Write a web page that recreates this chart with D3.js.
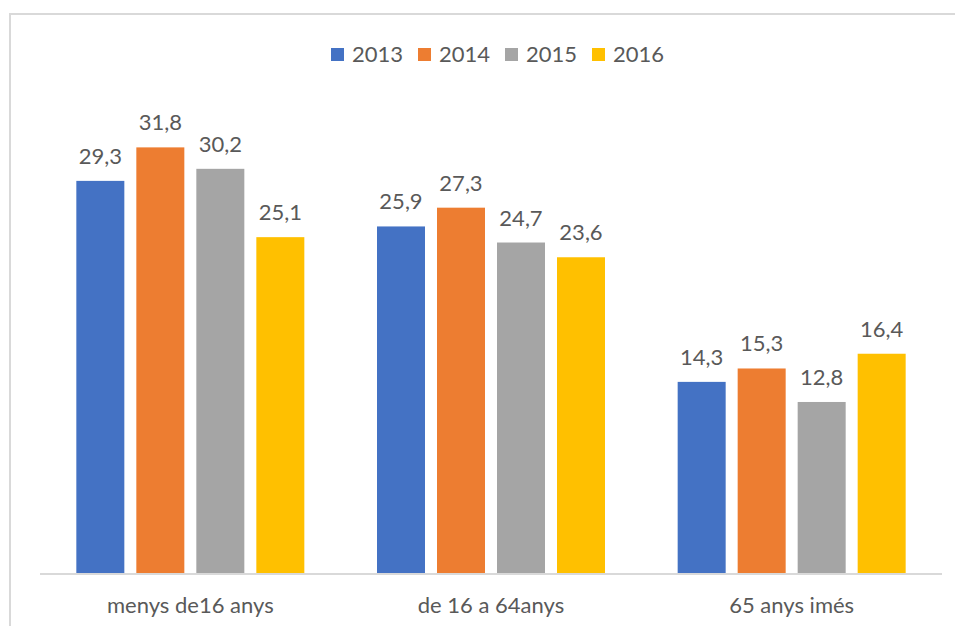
<!DOCTYPE html>
<html><head><meta charset="utf-8">
<script src="https://cdn.jsdelivr.net/npm/d3@7"></script>
<style>body{margin:0;background:#fff}svg{display:block}</style>
</head><body>
<script>
const categories = ["menys de16 anys", "de 16 a 64anys", "65 anys imés"];
const years = ["2013", "2014", "2015", "2016"];
const values2013 = [29.3, 25.9, 14.3];
const values2014 = [31.8, 27.3, 15.3];
const values2015 = [30.2, 24.7, 12.8];
const values2016 = [25.1, 23.6, 16.4];
const seriesValues = [values2013, values2014, values2015, values2016];
const colors = ["#4472C4", "#ED7D31", "#A5A5A5", "#FFC000"];

const W = 955, H = 626;
const font = "Lato, 'Open Sans', sans-serif";
const textColor = "#595959";
const svg = d3.select("body").append("svg").attr("width", W).attr("height", H);

svg.append("rect").attr("x", 10).attr("y", 14).attr("width", 980).attr("height", 700)
  .attr("fill", "#fff").attr("stroke", "#d9d9d9").attr("stroke-width", 2);

const x0 = d3.scaleBand().domain(categories).range([40, 942]).paddingInner(0).paddingOuter(0);
const x1 = d3.scaleBand().domain(years).range([-114, 114]).paddingInner(0.2).paddingOuter(0);
const y = d3.scaleLinear().domain([0, 35]).range([573.5, 573.5 - 35 * 13.4]);

const data = [];
categories.forEach((c, i) => years.forEach((yr, j) => data.push({c, yr, v: seriesValues[j][i], color: colors[j]})));

const g = svg.append("g");
g.selectAll("rect.bar").data(data).enter().append("rect").attr("class", "bar")
  .attr("x", d => x0(d.c) + x0.bandwidth() / 2 + x1(d.yr))
  .attr("y", d => y(d.v))
  .attr("width", x1.bandwidth())
  .attr("height", d => y(0) - y(d.v))
  .attr("fill", d => d.color);

g.selectAll("text.lbl").data(data).enter().append("text").attr("class", "lbl")
  .attr("x", d => x0(d.c) + x0.bandwidth() / 2 + x1(d.yr) + x1.bandwidth() / 2)
  .attr("y", d => y(d.v) - 17)
  .attr("text-anchor", "middle").attr("font-family", font).attr("font-size", 22)
  .attr("fill", textColor)
  .text(d => d3.format(".1f")(d.v).replace(".", ","));

// x axis
const xAxis = d3.axisBottom(x0).tickSize(0).tickPadding(0);
const ax = svg.append("g").attr("transform", `translate(0,${y(0)})`).call(xAxis);
ax.select(".domain").attr("stroke", "#d9d9d9").attr("stroke-width", 2).attr("d", "M40,0.5H942");
ax.selectAll(".tick text").attr("font-family", font).attr("font-size", 22).attr("fill", textColor)
  .attr("dy", 0).attr("y", 39);

// legend
const leg = svg.append("g");
const legX = d3.scalePoint().domain(years).range([331, 592]);
years.forEach((yr, j) => {
  leg.append("rect").attr("x", legX(yr)).attr("y", 48).attr("width", 13).attr("height", 13).attr("fill", colors[j]);
  leg.append("text").attr("x", legX(yr) + 21).attr("y", 62).attr("font-family", font).attr("font-size", 22)
    .attr("fill", textColor).text(yr);
});
</script>
</body></html>
